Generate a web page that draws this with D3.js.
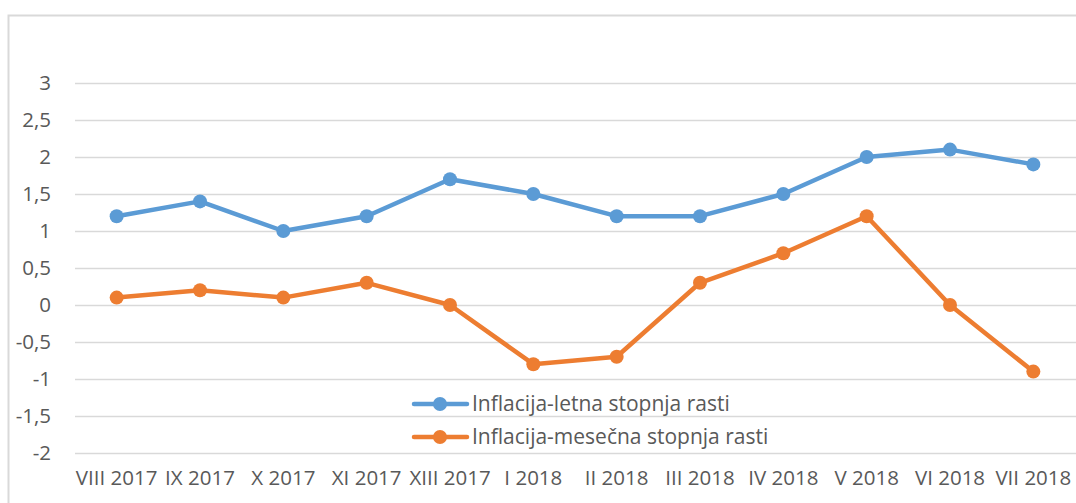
<!DOCTYPE html>
<html><head><meta charset="utf-8">
<script src="https://cdn.jsdelivr.net/npm/d3@7"></script>
<style>body{margin:0;background:#fff}svg{display:block}text{font-family:"Open Sans",sans-serif;fill:#595959}</style>
</head><body><svg id="c" width="1076" height="503"></svg>
<script>
const categories=["VIII 2017","IX 2017","X 2017","XI 2017","XIII 2017","I 2018","II 2018","III 2018","IV 2018","V 2018","VI 2018","VII 2018"];
const annualRate=[1.2,1.4,1.0,1.2,1.7,1.5,1.2,1.2,1.5,2.0,2.1,1.9];
const monthlyRate=[0.1,0.2,0.1,0.3,0.0,-0.8,-0.7,0.3,0.7,1.2,0.0,-0.9];
const yTicks=[-2,-1.5,-1,-0.5,0,0.5,1,1.5,2,2.5,3];
const seriesNames=["Inflacija-letna stopnja rasti","Inflacija-mesečna stopnja rasti"];
const colors=["#5b9bd5","#ed7d31"];
const FONT="'Open Sans'";
const FS=20.5;
const LFS=21;

const svg=d3.select("#c");
svg.append("rect").attr("x",8.5).attr("y",15.5).attr("width",1100).attr("height",600).attr("fill","#fff").attr("stroke","#d9d9d9").attr("stroke-width",2);

const x=d3.scaleBand().domain(categories).range([75,1075]).padding(0);
const y=d3.scaleLinear().domain([-2,3]).range([453,83]);

const fmt=v=>String(v).replace(".",",");
const gy=svg.append("g").attr("transform","translate(75,0)")
 .call(d3.axisLeft(y).tickValues(yTicks).tickSize(-1001).tickFormat(fmt).tickPadding(24));
gy.select(".domain").remove();
gy.selectAll(".tick line").attr("stroke","#d9d9d9").attr("stroke-width",1.5);
gy.selectAll(".tick text").attr("font-size",FS).attr("fill","#595959").attr("font-family",FONT);

const gx=svg.append("g").attr("transform","translate(0,453)")
 .call(d3.axisBottom(x).tickSize(0).tickPadding(17));
gx.select(".domain").remove();
gx.selectAll(".tick text").attr("font-size",FS).attr("fill","#595959").attr("font-family",FONT);

const data=[annualRate,monthlyRate];
const line=d3.line().x((d,i)=>x(categories[i])+x.bandwidth()/2).y(d=>y(d));
data.forEach((s,k)=>{
  svg.append("path").datum(s).attr("d",line).attr("fill","none").attr("stroke",colors[k]).attr("stroke-width",4.5).attr("stroke-linejoin","round").attr("stroke-linecap","round");
  svg.selectAll(null).data(s).enter().append("circle")
    .attr("cx",(d,i)=>x(categories[i])+x.bandwidth()/2).attr("cy",d=>y(d)).attr("r",7).attr("fill",colors[k]);
});

const lg=svg.append("g");
seriesNames.forEach((n,k)=>{
  const yy=404+k*33;
  lg.append("line").attr("x1",414).attr("x2",467).attr("y1",yy).attr("y2",yy).attr("stroke",colors[k]).attr("stroke-width",4.5).attr("stroke-linecap","round");
  lg.append("circle").attr("cx",440).attr("cy",yy).attr("r",7).attr("fill",colors[k]);
  lg.append("text").attr("x",472).attr("y",yy).attr("dy","0.35em").attr("font-size",LFS).attr("font-family",FONT).text(n);
});
</script></body></html>
